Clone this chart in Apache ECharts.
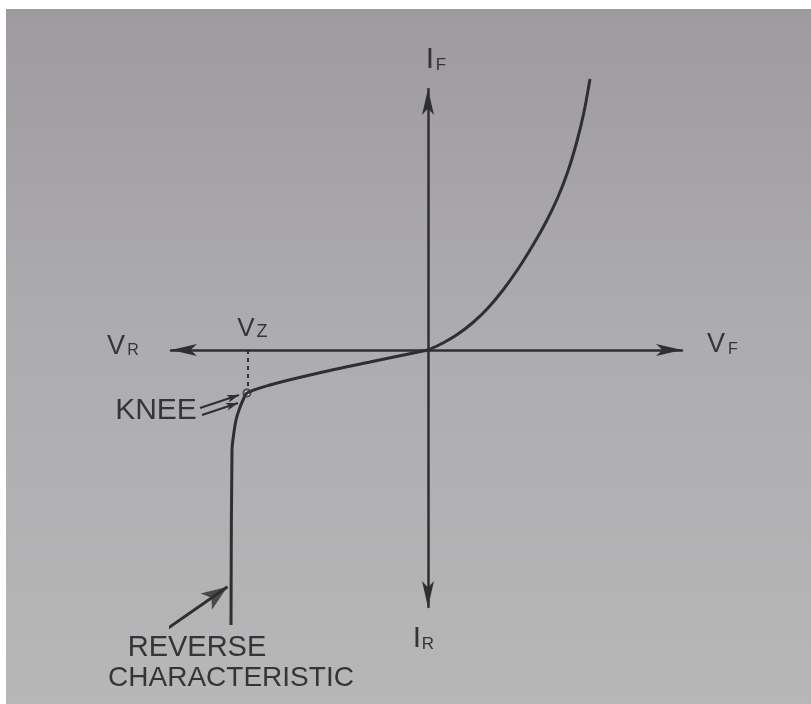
<!DOCTYPE html>
<html>
<head>
<meta charset="utf-8">
<script src="https://cdn.jsdelivr.net/npm/echarts@6/dist/echarts.min.js"></script>
<style>
  html, body { margin: 0; padding: 0; background: #fff; }
  #chart { width: 811px; height: 704px; }
</style>
</head>
<body>
<div id="chart"></div>
<script>
// Zener diode V-I characteristic, arbitrary units (0 = origin of both axes)

// Forward branch: exponential rise of I_F with V_F
const forwardV = [0, 1.5, 3, 4.5, 6, 7.5, 9, 10.5, 11.8, 13, 14, 14.9, 15.6, 16.2];
const forwardI = [0, 0.7, 1.6, 2.75, 4.2, 6.0, 8.1, 10.5, 12.8, 15.3, 17.9, 20.9, 23.8, 27.1];

// Reverse branch: small leakage, knee at V_Z, then breakdown (vertical)
const reverseV = [0, -5.8, -11.8, -15.8, -18.1, -18.5, -18.9, -19.2, -19.4, -19.6, -19.7];
const reverseI = [0, -1.2, -2.5, -3.5, -4.3, -5.0, -6.0, -7.0, -8.2, -10.0, -27.5];

// Zener voltage marker and knee point
const zenerV = -18.0;
const kneePoint = [-18.1, -4.3];
const zenerDropI = [0, -3.8];

// Pointer lines for the annotations: [start, end]
const kneePointerA = [[-22.8, -5.8], [-18.9, -4.5]];
const kneePointerB = [[-22.6, -6.5], [-19.0, -5.3]];
const reversePointer = [[-26.4, -28.1], [-19.8, -23.5]];

// Axis extents
const vMin = -25.7, vMax = 25.4;
const iMin = -25.7, iMax = 26.1;

const INK = '#2f2f31';
const FONT = '"Liberation Sans", Arial, sans-serif';

const zip = (xs, ys) => xs.map((x, k) => [x, ys[k]]);

function label(text, x, y, size) {
  return {
    type: 'text', x: x, y: y, silent: true,
    style: {
      text: text, font: size + 'px ' + FONT, fill: '#353537',
      align: 'center', verticalAlign: 'middle'
    }
  };
}

// arrowhead heading for the reverse-characteristic pointer (both axes share a scale)
const dv = reversePointer[1][0] - reversePointer[0][0];
const di = reversePointer[1][1] - reversePointer[0][1];
const headingDeg = Math.atan2(di, dv) * 180 / Math.PI;
const headLen = 0.3;
const dLen = Math.hypot(dv, di);
const headCenter = [
  reversePointer[1][0] - dv / dLen * headLen,
  reversePointer[1][1] - di / dLen * headLen
];

const chart = echarts.init(document.getElementById('chart'), null, { renderer: 'canvas' });

const axisCommon = {
  type: 'value',
  axisLabel: { show: false },
  axisTick: { show: false },
  splitLine: { show: false },
  axisLine: {
    show: true, onZero: true,
    symbol: ['arrow', 'arrow'],
    symbolSize: [9, 26],
    lineStyle: { color: INK, width: 2.5 }
  }
};

chart.setOption({
  animation: false,
  backgroundColor: new echarts.graphic.LinearGradient(0, 0, 0, 1, [
    { offset: 0, color: '#9e9a9f' },
    { offset: 0.45, color: '#acabae' },
    { offset: 1, color: '#b7b7b8' }
  ]),
  grid: { left: 171, right: 129, top: 89, bottom: 97, outerBoundsMode: 'none' },
  xAxis: Object.assign({}, axisCommon, { min: vMin, max: vMax }),
  yAxis: Object.assign({}, axisCommon, { min: iMin, max: iMax }),
  series: [
    {
      name: 'forward', type: 'line', clip: false, smooth: 0.3,
      symbol: 'none', silent: true,
      lineStyle: { color: INK, width: 3 },
      data: zip(forwardV, forwardI),
      markLine: {
        silent: true, animation: false,
        label: { show: false },
        lineStyle: { color: INK, width: 2, type: 'solid' },
        data: [
          [
            { coord: kneePointerA[0], symbol: 'none' },
            { coord: kneePointerA[1], symbol: 'arrow', symbolSize: [6, 12] }
          ],
          [
            { coord: kneePointerB[0], symbol: 'none' },
            { coord: kneePointerB[1], symbol: 'arrow', symbolSize: [6, 12] }
          ]
        ]
      }
    },
    {
      name: 'reverse', type: 'line', clip: false, smooth: 0.3,
      symbol: 'none', silent: true,
      lineStyle: { color: INK, width: 3 },
      data: zip(reverseV, reverseI)
    },
    {
      name: 'vz', type: 'line', clip: false, symbol: 'none', silent: true,
      lineStyle: { color: INK, width: 2, type: [4, 4] },
      data: zenerDropI.map(i => [zenerV, i])
    },
    {
      name: 'knee', type: 'scatter', clip: false, silent: true,
      symbol: 'emptyCircle', symbolSize: 7,
      itemStyle: { color: INK, borderWidth: 1.5 },
      data: [kneePoint]
    },
    {
      name: 'pointer', type: 'line', clip: false, symbol: 'none', silent: true,
      lineStyle: { color: INK, width: 3 },
      data: [reversePointer[0], headCenter]
    },
    {
      name: 'pointerHead', type: 'scatter', clip: false, silent: true,
      symbol: 'arrow', symbolSize: [15, 26], symbolRotate: headingDeg - 90,
      itemStyle: { color: INK },
      data: [headCenter]
    }
  ],
  graphic: [
    // paper edge
    { type: 'rect', silent: true, shape: { x: 0, y: 0, width: 811, height: 9 }, style: { fill: '#ffffff' } },
    { type: 'rect', silent: true, shape: { x: 0, y: 0, width: 6, height: 704 }, style: { fill: '#ffffff' } },
    // axis names
    label('I', 430, 60, 30), label('F', 441, 65, 17),
    label('I', 417, 639, 30), label('R', 428, 644, 17),
    label('V', 116, 347, 27), label('R', 133, 351, 16),
    label('V', 716, 345, 27), label('F', 733, 350, 16),
    label('V', 246, 329, 26), label('Z', 262, 332, 18),
    // annotations
    label('KNEE', 156, 411, 30),
    label('REVERSE', 197, 648, 29),
    label('CHARACTERISTIC', 231, 678, 28)
  ]
});
</script>
</body>
</html>
